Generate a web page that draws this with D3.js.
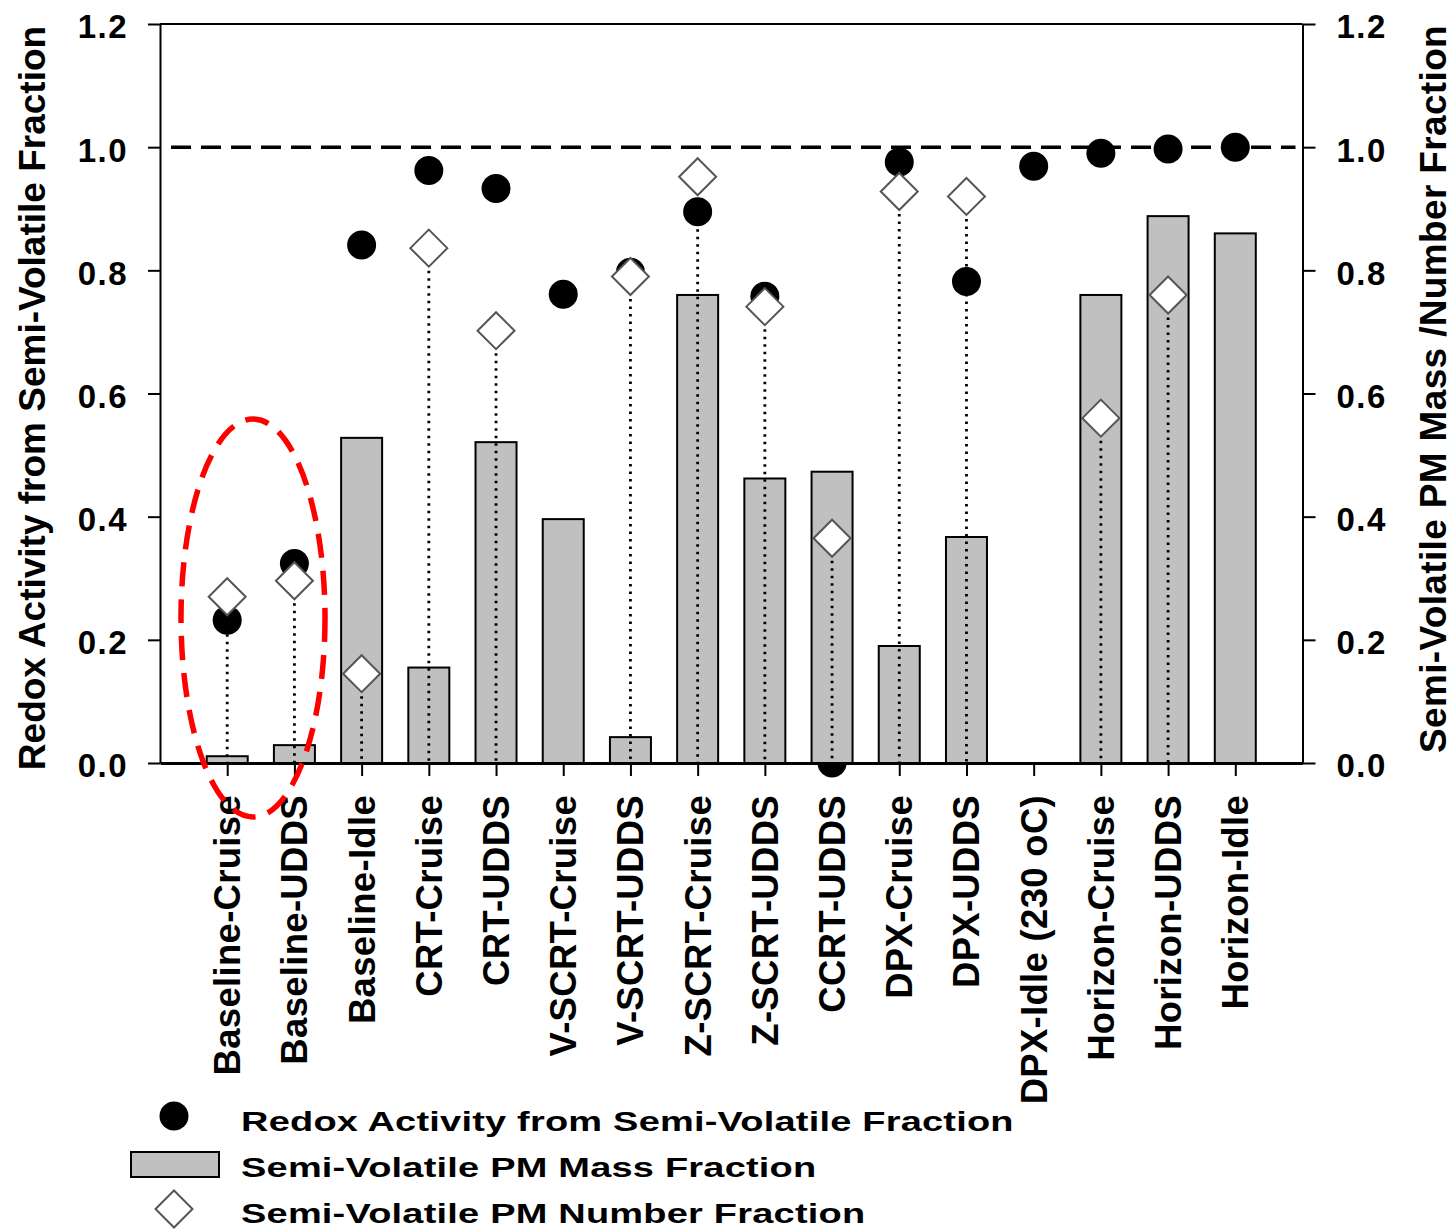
<!DOCTYPE html>
<html>
<head>
<meta charset="utf-8">
<script src="https://cdn.jsdelivr.net/npm/d3@7"></script>
<style>
  html, body { margin: 0; padding: 0; background: #fff; }
  svg { display: block; }
  text { font-family: "Liberation Sans", Arial, sans-serif; font-weight: bold; fill: #000; }
</style>
</head>
<body>
<svg id="chart" width="1455" height="1229"></svg>
<script>
// Test configurations (engine / aftertreatment – driving cycle)
const categories = [
  "Baseline-Cruise", "Baseline-UDDS", "Baseline-Idle", "CRT-Cruise", "CRT-UDDS",
  "V-SCRT-Cruise", "V-SCRT-UDDS", "Z-SCRT-Cruise", "Z-SCRT-UDDS", "CCRT-UDDS",
  "DPX-Cruise", "DPX-UDDS", "DPX-Idle (230 oC)", "Horizon-Cruise", "Horizon-UDDS", "Horizon-Idle"
];

// Redox activity attributable to the semi-volatile fraction (left axis)
const redoxFraction = [0.232, 0.324, 0.841, 0.962, 0.933, 0.761, 0.797, 0.895, 0.758, 0.0,
                       0.976, 0.782, 0.969, 0.990, 0.997, 1.0];

// Semi-volatile PM mass fraction (right axis, bars); null = not measured
const massFraction = [0.011, 0.029, 0.528, 0.155, 0.521, 0.396, 0.042, 0.760, 0.462, 0.473,
                      0.190, 0.367, null, 0.760, 0.888, 0.860];

// Semi-volatile PM number fraction (right axis, diamonds); null = not measured
const numberFraction = [0.270, 0.296, 0.145, 0.836, 0.702, null, 0.790, 0.952, 0.741, 0.365,
                        0.928, 0.920, null, 0.560, 0.760, null];

const tickValues = [0, 0.2, 0.4, 0.6, 0.8, 1.0, 1.2];
const tickLabels = ["0.0", "0.2", "0.4", "0.6", "0.8", "1.0", "1.2"];

const legendLabels = [
  "Redox Activity from Semi-Volatile Fraction",
  "Semi-Volatile PM Mass Fraction",
  "Semi-Volatile PM Number Fraction"
];
const leftTitle = "Redox Activity from Semi-Volatile Fraction";
const rightTitle = "Semi-Volatile PM Mass /Number Fraction";

// ---- layout ----
const plot = { left: 160, right: 1302.5, top: 24, bottom: 763 };
const svg = d3.select("#chart");

const x = d3.scalePoint().domain(categories).range([plot.left, plot.right]).padding(1);
const yLeft = d3.scaleLinear().domain([0, 1.2]).range([plot.bottom, plot.top]);
const yRight = d3.scaleLinear().domain([0, 1.2]).range([plot.bottom, plot.top]);

const barWidth = 41;
const dotR = 14.5;
const diamondHalf = 18.5;
const diamondPath = (cx, cy, h) =>
  `M${cx},${cy - h}L${cx + h},${cy}L${cx},${cy + h}L${cx - h},${cy}Z`;

const rows = categories.map((c, i) => ({
  cat: c, redox: redoxFraction[i], mass: massFraction[i], number: numberFraction[i]
}));

// reference line at unity
svg.append("line")
  .attr("x1", 171).attr("x2", plot.right - 7)
  .attr("y1", yLeft(1.0)).attr("y2", yLeft(1.0))
  .attr("stroke", "#000").attr("stroke-width", 3.5)
  .attr("stroke-dasharray", "20,10");

// redox circles (drawn beneath the bars)
svg.append("g").selectAll("circle")
  .data(rows.filter(d => d.redox != null))
  .join("circle")
  .attr("cx", d => x(d.cat))
  .attr("cy", d => yLeft(d.redox))
  .attr("r", dotR)
  .attr("fill", "#000");

// mass fraction bars
svg.append("g").selectAll("rect")
  .data(rows.filter(d => d.mass != null))
  .join("rect")
  .attr("x", d => x(d.cat) - barWidth / 2)
  .attr("y", d => yRight(d.mass))
  .attr("width", barWidth)
  .attr("height", d => yRight(0) - yRight(d.mass))
  .attr("fill", "#c0c0c0")
  .attr("stroke", "#000")
  .attr("stroke-width", 2);

// drop lines from the number-fraction markers
svg.append("g").selectAll("line")
  .data(rows.filter(d => d.number != null))
  .join("line")
  .attr("x1", d => x(d.cat)).attr("x2", d => x(d.cat))
  .attr("y1", d => yRight(d.number)).attr("y2", yRight(0))
  .attr("stroke", "#000").attr("stroke-width", 2.8)
  .attr("stroke-dasharray", "2.5,5");

// number fraction diamonds
svg.append("g").selectAll("path")
  .data(rows.filter(d => d.number != null))
  .join("path")
  .attr("d", d => diamondPath(x(d.cat), yRight(d.number), diamondHalf))
  .attr("fill", "#fff")
  .attr("stroke", "#555")
  .attr("stroke-width", 2);

// ---- axes ----
const fmt = v => tickLabels[tickValues.findIndex(t => Math.abs(t - v) < 1e-9)];

const gLeft = svg.append("g").attr("transform", `translate(${plot.left},0)`)
  .call(d3.axisLeft(yLeft).tickValues(tickValues).tickFormat(fmt).tickSize(12).tickSizeOuter(0).tickPadding(20));
const gRight = svg.append("g").attr("transform", `translate(${plot.right},0)`)
  .call(d3.axisRight(yRight).tickValues(tickValues).tickFormat(fmt).tickSize(13).tickSizeOuter(0).tickPadding(21));
const gBottom = svg.append("g").attr("transform", `translate(0,${plot.bottom})`)
  .call(d3.axisBottom(x).tickSize(13).tickSizeOuter(0).tickFormat(""));

[gLeft, gRight].forEach(g => {
  g.select(".domain").attr("stroke", "#000").attr("stroke-width", 2);
  g.selectAll(".tick line").attr("stroke", "#000").attr("stroke-width", 2);
  g.selectAll(".tick text")
    .attr("font-size", 33).attr("letter-spacing", 1.5)
    .attr("font-family", "Liberation Sans, Arial, sans-serif").attr("font-weight", "bold")
    .attr("dy", "0.42em").attr("fill", "#000");
});
gBottom.select(".domain").attr("stroke", "#000").attr("stroke-width", 3);
gBottom.selectAll(".tick line").attr("stroke", "#000").attr("stroke-width", 2);

// top frame line
svg.append("line")
  .attr("x1", plot.left).attr("x2", plot.right)
  .attr("y1", plot.top).attr("y2", plot.top)
  .attr("stroke", "#000").attr("stroke-width", 2);

// rotated category labels
svg.append("g").selectAll("text")
  .data(categories)
  .join("text")
  .attr("transform", d => `translate(${x(d) + 13},795) rotate(-90)`)
  .attr("text-anchor", "end")
  .attr("font-size", 36.5)
  .attr("letter-spacing", 0.3)
  .text(d => d);

// axis titles
svg.append("text")
  .attr("transform", `translate(45,398) rotate(-90)`)
  .attr("text-anchor", "middle")
  .attr("font-size", 37)
  .text(leftTitle);
svg.append("text")
  .attr("transform", `translate(1446,389) rotate(-90)`)
  .attr("text-anchor", "middle")
  .attr("font-size", 37)
  .attr("letter-spacing", 0.35)
  .text(rightTitle);

// highlight around the baseline cruise/UDDS results
svg.append("ellipse")
  .attr("cx", 253).attr("cy", 618).attr("rx", 72).attr("ry", 199)
  .attr("fill", "none").attr("stroke", "#ff0000").attr("stroke-width", 5.5)
  .attr("stroke-dasharray", "24,13");

// ---- legend ----
const legend = svg.append("g");
const baselines = [1131, 1177, 1223];
legend.append("circle").attr("cx", 174).attr("cy", 1116).attr("r", dotR).attr("fill", "#000");
legend.append("rect").attr("x", 131).attr("y", 1152).attr("width", 88).attr("height", 25)
  .attr("fill", "#c0c0c0").attr("stroke", "#000").attr("stroke-width", 2);
legend.append("path").attr("d", diamondPath(174, 1209, 18.5))
  .attr("fill", "#fff").attr("stroke", "#555").attr("stroke-width", 2);
legend.selectAll("text.leg")
  .data(legendLabels)
  .join("text")
  .attr("class", "leg")
  .attr("transform", (d, i) => `translate(241,${baselines[i]}) scale(1,0.72)`)
  .attr("font-size", 38)
  .attr("letter-spacing", 0.2)
  .text(d => d);
</script>
</body>
</html>
